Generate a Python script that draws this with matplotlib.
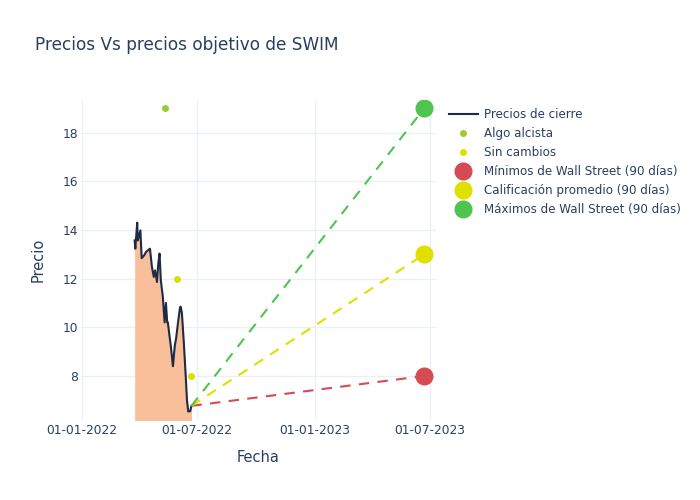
import numpy as np
import pandas as pd
import matplotlib
matplotlib.use("Agg")
import matplotlib.pyplot as plt
import matplotlib.dates as mdates

# closing prices
price_dates = [
    "2022-03-25", "2022-03-26", "2022-03-29", "2022-03-30", "2022-04-03",
    "2022-04-05", "2022-04-09", "2022-04-12", "2022-04-18", "2022-04-21",
    "2022-04-24", "2022-04-26", "2022-04-29", "2022-05-01", "2022-05-03",
    "2022-05-05", "2022-05-08", "2022-05-11", "2022-05-13", "2022-05-15",
    "2022-05-16", "2022-05-21", "2022-05-24", "2022-05-27", "2022-05-29",
    "2022-06-01", "2022-06-04", "2022-06-05", "2022-06-07", "2022-06-10",
    "2022-06-13", "2022-06-15", "2022-06-17", "2022-06-20", "2022-06-22",
]
close_prices = [
    13.57, 13.23, 14.3, 13.57, 13.98,
    12.84, 12.96, 13.1, 13.23, 12.49,
    12.07, 12.34, 11.86, 12.6, 13.03,
    11.93, 11.3, 10.2, 11.0, 10.2,
    10.2, 9.15, 8.4, 9.27, 9.55,
    10.2, 10.8, 10.85, 10.6, 9.4,
    8.0, 7.0, 6.54, 6.55, 6.77,
]

# analyst ratings
bullish_dates = ["2022-05-12"]
bullish_prices = [19]
neutral_dates = ["2022-05-31", "2022-06-21"]
neutral_prices = [12, 8]

# Wall Street targets (90 days)
target_start = "2022-06-22"
target_end = "2023-06-22"
last_close = 6.77
target_low = 8
target_avg = 13
target_high = 19

text_color = "#2a3f5f"
grid_color = "#ebf0f8"

plt.rcParams["font.family"] = "DejaVu Sans"

fig = plt.figure(figsize=(7, 5), dpi=100)
ax = fig.add_axes([81 / 700, 80 / 500, 355 / 700, 320 / 500])

dates = pd.to_datetime(price_dates)
ax.fill_between(dates, close_prices, 0, color="#f9bf9a", lw=0)
ax.plot(dates, close_prices, color="#1f2a44", lw=1.5, label="Precios de cierre")

ax.plot(pd.to_datetime(bullish_dates), bullish_prices, "o", color="#9acd32",
        ms=4, ls="none", label="Algo alcista")
ax.plot(pd.to_datetime(neutral_dates), neutral_prices, "o", color="#dce000",
        ms=4, ls="none", label="Sin cambios")

t0, t1 = pd.to_datetime(target_start), pd.to_datetime(target_end)
targets = [(target_low, "#d64b53", "Mínimos de Wall Street (90 días)"),
           (target_avg, "#e0e000", "Calificación promedio (90 días)"),
           (target_high, "#4fc54f", "Máximos de Wall Street (90 días)")]
for value, color, label in targets:
    ax.plot([t0, t1], [last_close, value], color=color, lw=1.5, ls=(0, (5, 4)))
for value, color, label in targets:
    ax.plot([t1], [value], "o", color=color, ms=12, ls="none", label=label,
            zorder=5)

ax.set_xlim(pd.Timestamp("2022-01-01") - pd.Timedelta(days=1.1),
            pd.Timestamp("2022-01-01") + pd.Timedelta(days=555.3))
ax.set_ylim(6.19, 19.34)
ax.set_yticks([8, 10, 12, 14, 16, 18])
ax.set_xticks(pd.to_datetime(["2022-01-01", "2022-07-01",
                              "2023-01-01", "2023-07-01"]))
ax.xaxis.set_major_formatter(mdates.DateFormatter("%d-%m-%Y"))

ax.grid(True, color=grid_color, lw=1)
ax.set_axisbelow(True)
for s in ax.spines.values():
    s.set_visible(False)
ax.tick_params(length=0, colors=text_color, labelsize=8.8)
ax.tick_params(axis="x", pad=3)
ax.tick_params(axis="y", pad=2)
ax.set_xlabel("Fecha", color=text_color, fontsize=10.5, labelpad=9)
ax.set_ylabel("Precio", color=text_color, fontsize=10.5, labelpad=12)

fig.text(35 / 700, 1 - 45 / 500, "Precios Vs precios objetivo de SWIM",
         color=text_color, fontsize=12.2, va="center")

fig.legend(loc="upper left", bbox_to_anchor=(449 / 700, 1 - 108 / 500),
           frameon=False, fontsize=8.6, labelcolor=text_color,
           handlelength=2.4, handletextpad=0.5, labelspacing=0.5,
           borderaxespad=0, borderpad=0)

fig.savefig("out.png", dpi=100)
